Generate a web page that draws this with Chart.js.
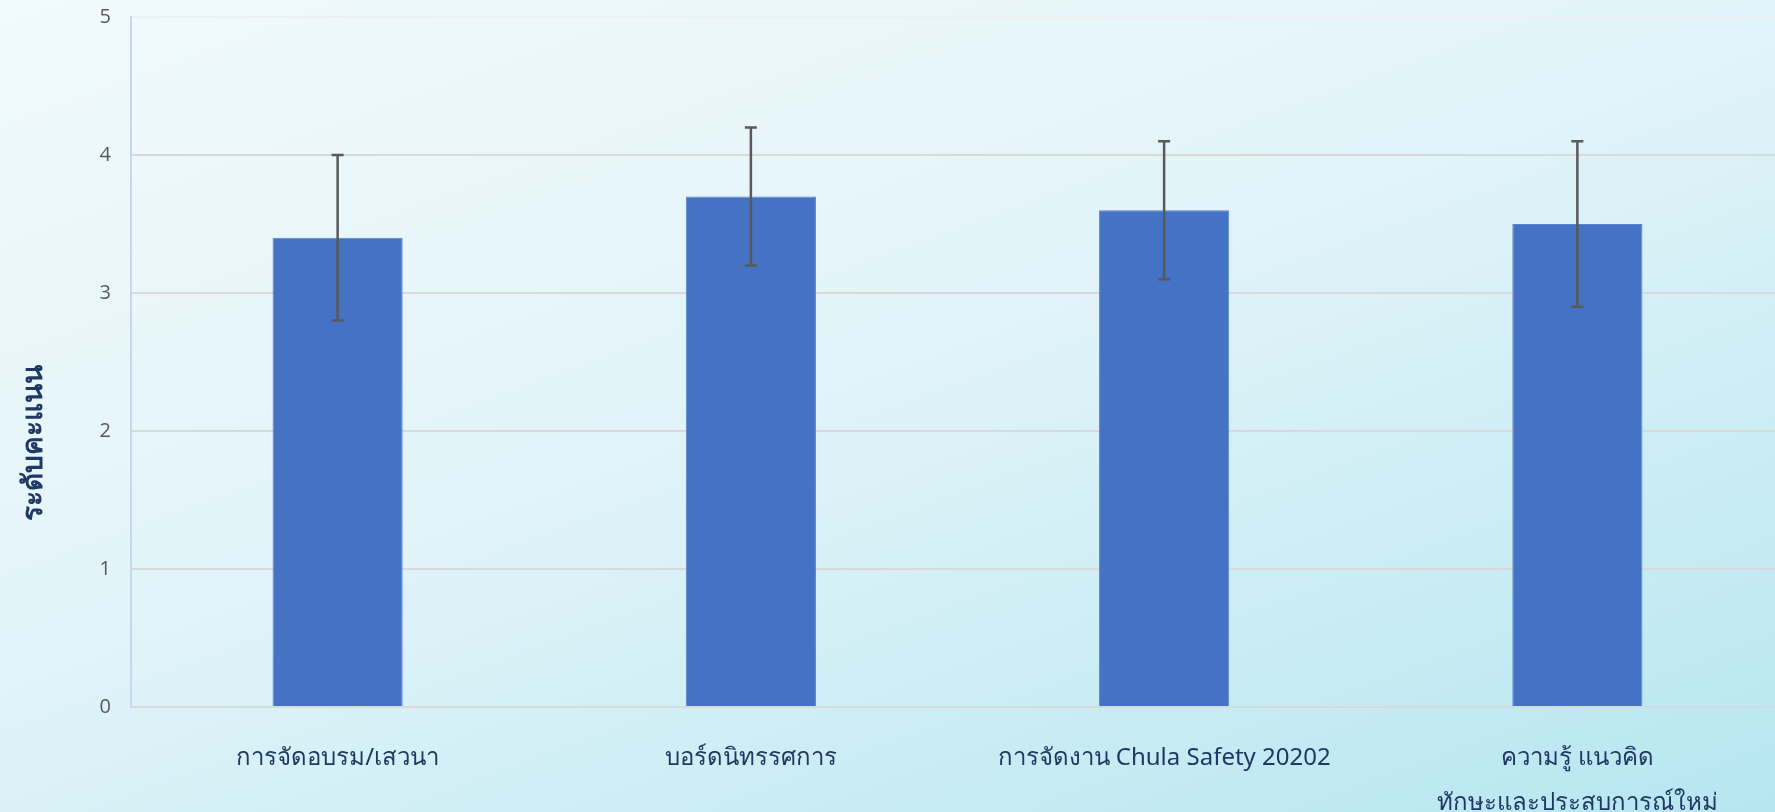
<!DOCTYPE html>
<html>
<head>
<meta charset="utf-8">
<script src="https://cdn.jsdelivr.net/npm/chart.js@4"></script>
<style>
  html, body { margin: 0; padding: 0; }
  body {
    width: 1775px; height: 812px; overflow: hidden;
    background: linear-gradient(160deg, #f1fafc 0%, #e2f4f9 45%, #b6e6f0 100%);
  }
  #wrap { width: 1775px; height: 812px; position: relative; overflow: hidden; }
</style>
</head>
<body>
<div id="wrap"><canvas id="myChart"></canvas></div>
<script>
// categories and values
const categories = [
  'การจัดอบรม/เสวนา',
  'บอร์ดนิทรรศการ',
  'การจัดงาน Chula Safety 20202',
  ['ความรู้ แนวคิด', 'ทักษะและประสบการณ์ใหม่']
];
const scores = [3.4, 3.7, 3.6, 3.5];
const errLow = [2.8, 3.2, 3.1, 2.9];
const errHigh = [4.0, 4.2, 4.1, 4.1];
const yTicks = [0, 1, 2, 3, 4, 5];
const yTitle = 'ระดับคะแนน';

// error bars drawn on top of the bars
const errorBars = {
  id: 'errorBars',
  afterDatasetsDraw(chart) {
    const ctx = chart.ctx;
    const y = chart.scales.y;
    const meta = chart.getDatasetMeta(0);
    ctx.save();
    ctx.strokeStyle = '#595959';
    ctx.lineWidth = 2.5;
    meta.data.forEach((bar, i) => {
      const x = bar.x;
      const top = y.getPixelForValue(errHigh[i]);
      const bot = y.getPixelForValue(errLow[i]);
      ctx.beginPath();
      ctx.moveTo(x, top); ctx.lineTo(x, bot);
      ctx.moveTo(x - 6, top); ctx.lineTo(x + 6, top);
      ctx.moveTo(x - 6, bot); ctx.lineTo(x + 6, bot);
      ctx.stroke();
    });
    ctx.restore();
  }
};

// y axis title, placed like in the original (not centred on the axis)
const sideTitle = {
  id: 'sideTitle',
  afterDraw(chart) {
    const ctx = chart.ctx;
    ctx.save();
    ctx.translate(34, 443);
    ctx.rotate(-Math.PI / 2);
    ctx.fillStyle = '#1f3864';
    ctx.font = 'bold 28px "Noto Sans", sans-serif';
    ctx.textAlign = 'center';
    ctx.textBaseline = 'middle';
    ctx.fillText(yTitle, 0, 0);
    ctx.restore();
  }
};

var data = {
  labels: categories,
  datasets: [{
    data: scores,
    backgroundColor: '#4472c4',
    borderColor: '#5a84cc',
    borderWidth: 1,
    categoryPercentage: 1,
    barPercentage: 0.315
  }]
};

var options = {
  responsive: false,
  animation: false,
  layout: { padding: { top: 17, right: 0, left: 0, bottom: 0 } },
  plugins: { legend: { display: false }, tooltip: { enabled: false } },
  scales: {
    x: {
      grid: { display: false },
      border: { color: '#d9d9d9', width: 2 },
      ticks: {
        color: '#1f3864',
        font: { family: '"Noto Sans", sans-serif', size: 24, lineHeight: 1.9 },
        padding: 20,
        maxRotation: 0,
        autoSkip: false
      },
      afterFit: (s) => { s.height = 105; s.paddingLeft = 0; s.paddingRight = 0; }
    },
    y: {
      min: 0,
      max: 5,
      afterBuildTicks: (s) => { s.ticks = yTicks.map(v => ({ value: v })); },
      grid: {
        // top line is very faint in the original
        color: (c) => c.tick && c.tick.value === 5 ? '#eef1f4' : '#d9d9d9',
        lineWidth: 2,
        drawTicks: false
      },
      border: { color: '#c8d6ee', width: 2 },
      ticks: {
        color: '#595959',
        font: { family: '"Open Sans", sans-serif', size: 20 },
        padding: 20
      },
      afterFit: (s) => { s.width = 131; s.paddingTop = 0; s.paddingBottom = 0; }
    }
  }
};

// the plot runs slightly past the right edge in the original
var canvas = document.getElementById('myChart');
canvas.width = 1784;
canvas.height = 812;
var myChart = new Chart(canvas.getContext('2d'), {
  type: 'bar',
  data: data,
  options: options,
  plugins: [errorBars, sideTitle]
});
</script>
</body>
</html>
